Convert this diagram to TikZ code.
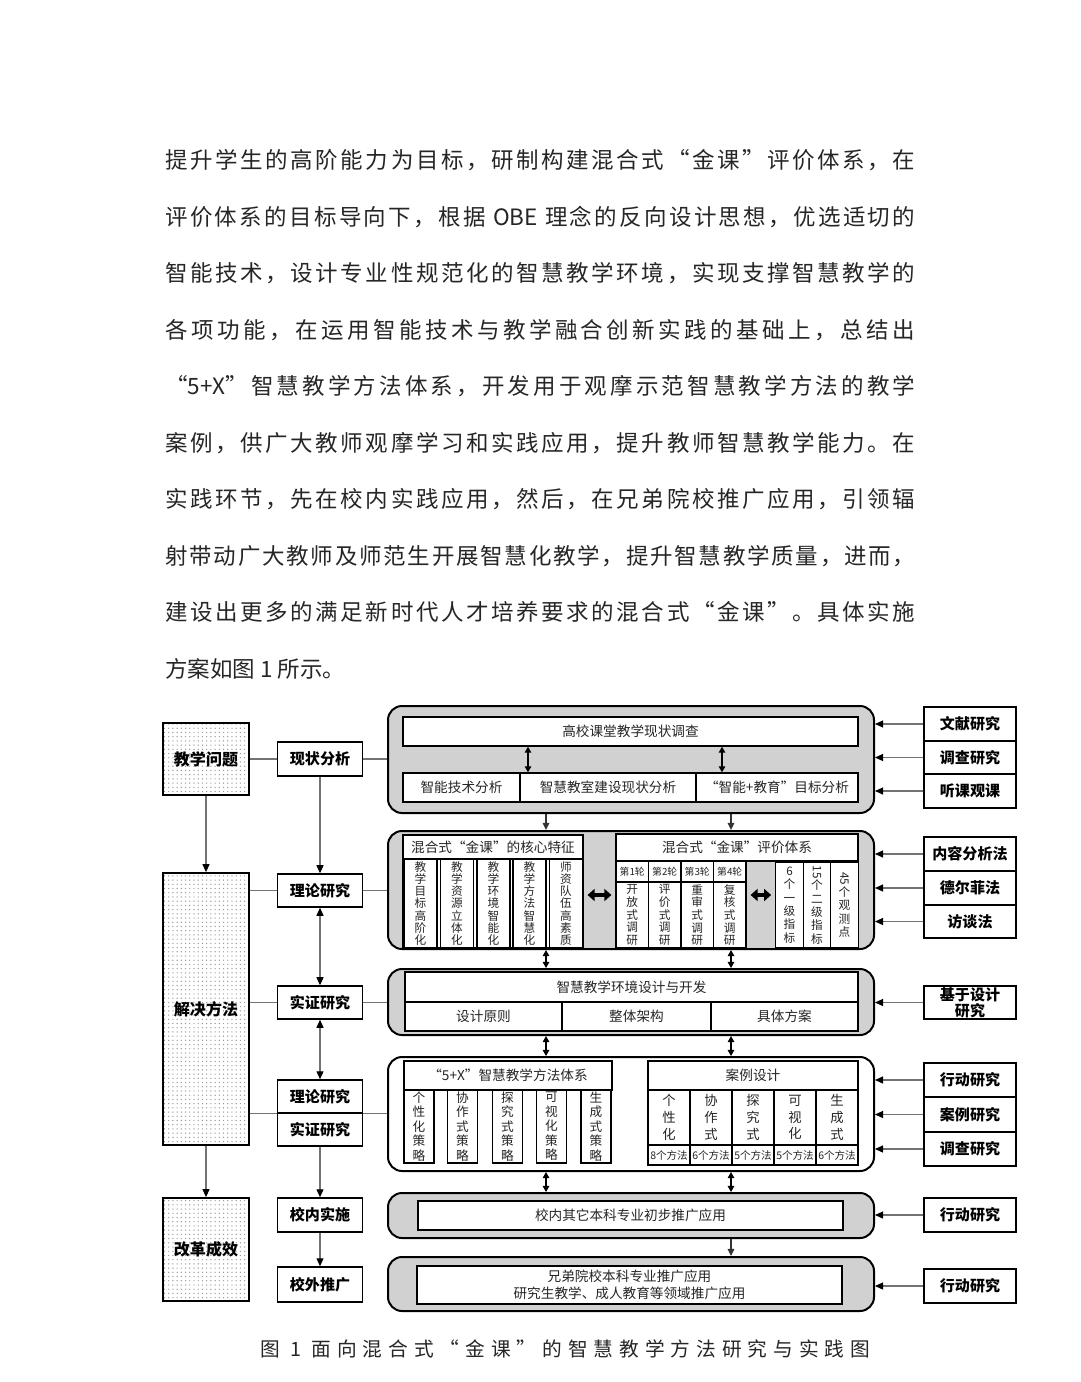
\documentclass[tikz,border=0pt]{standalone}
\usepackage{fontspec}
\setmainfont{Noto Sans CJK SC}
\usepackage{graphicx}
\usepackage{tikz}
\usetikzlibrary{arrows.meta, patterns}

\newdimen\pxu
\pxu=0.25mm
% ligne justifiee caractere par caractere
\newcommand\spreadend{}
\newcommand\spreadline[2]{\makebox[#1][s]{\spreadaux#2\spreadend}}
\def\spreadaux#1{#1\spreadnext}
\def\spreadnext#1{\ifx\spreadend#1\else\hfil#1\expandafter\spreadnext\fi}
\newcommand\obe{\mbox{ OBE }}
\newcommand\fivex{\mbox{“5+X”}}
\newcommand\figno{\mbox{ 1 }}

\begin{document}
\begin{tikzpicture}[x=0.25mm, y=-0.25mm,
    bodyline/.style={inner sep=0pt, anchor=west, text=black!85, font=\fontsize{16}{20}\selectfont},
    problem/.style={draw, line width=1.8\pxu, preaction={fill=white}, pattern=dots, pattern color=black!40, minimum width=86\pxu, font=\fontsize{11.4}{13}\selectfont\bfseries},
    stage/.style={draw, line width=1.5\pxu, fill=white, minimum width=85\pxu, minimum height=34\pxu, font=\fontsize{10.7}{12}\selectfont\bfseries},
    method/.style={draw, line width=1.5\pxu, fill=white, minimum width=92\pxu, minimum height=34\pxu, font=\fontsize{10.7}{12}\selectfont\bfseries},
    panel/.style={draw, line width=2\pxu, rounded corners=14\pxu, fill=black!18, minimum width=486\pxu},
    cell/.style={draw, line width=1.3\pxu, fill=white, inner sep=0pt, text=black!85, font=\fontsize{9.7}{11}\selectfont},
    vcell/.style={cell, align=center, font=\fontsize{8.3}{8.6}\selectfont},
    roundlbl/.style={cell, minimum width=32.5\pxu, minimum height=21\pxu, font=\fontsize{7}{8}\selectfont},
    link/.style={draw=black!55, line width=1.1\pxu},
    into/.style={link, -{Triangle[length=5.7pt, width=5pt, color=black]}},
    twoway/.style={link, {Triangle[length=5.7pt, width=5pt, color=black]}-{Triangle[length=5.7pt, width=5pt, color=black]}},
    drop/.style={draw=black!80, line width=1.2\pxu, -{Triangle[length=5pt, width=4.6pt]}},
    dbl/.style={draw=black, line width=1.3\pxu, {Triangle[length=4.3pt, width=4.6pt]}-{Triangle[length=4.3pt, width=4.6pt]}},
    fat/.style={draw=black, line width=4\pxu, {Triangle[length=5pt, width=8.5pt]}-{Triangle[length=5pt, width=8.5pt]}, shorten >=2.8pt, shorten <=2.8pt}
]

    \fill[white] (0,0) rectangle (1080,1382);
    \useasboundingbox (0,0) rectangle (1080,1382);

    % ── texte courant ──
    \node[bodyline] (l1) at (165,160) {\spreadline{750\pxu}{提升学生的高阶能力为目标，研制构建混合式“金课”评价体系，在}};
    \node[bodyline] (l2) at (165,216.6) {\spreadline{750\pxu}{评价体系的目标导向下，根据\obe 理念的反向设计思想，优选适切的}};
    \node[bodyline] (l3) at (165,273.1) {\spreadline{750\pxu}{智能技术，设计专业性规范化的智慧教学环境，实现支撑智慧教学的}};
    \node[bodyline] (l4) at (165,329.7) {\spreadline{750\pxu}{各项功能，在运用智能技术与教学融合创新实践的基础上，总结出}};
    \node[bodyline] (l5) at (165,386.2) {\spreadline{750\pxu}{\fivex 智慧教学方法体系，开发用于观摩示范智慧教学方法的教学}};
    \node[bodyline] (l6) at (165,442.8) {\spreadline{750\pxu}{案例，供广大教师观摩学习和实践应用，提升教师智慧教学能力。在}};
    \node[bodyline] (l7) at (165,499.3) {\spreadline{750\pxu}{实践环节，先在校内实践应用，然后，在兄弟院校推广应用，引领辐}};
    \node[bodyline] (l8) at (165,555.9) {\spreadline{750\pxu}{射带动广大教师及师范生开展智慧化教学，提升智慧教学质量，进而，}};
    \node[bodyline] (l9) at (165,612.4) {\spreadline{750\pxu}{建设出更多的满足新时代人才培养要求的混合式“金课”。具体实施}};
    \node[bodyline] (l10) at (165,669) {方案如图 1 所示。};

    % ── colonne gauche ──
    \node[problem, minimum height=72\pxu] (prob) at (206,759) {教学问题};
    \node[problem, minimum height=272\pxu] (sol) at (206,1009) {解决方法};
    \node[problem, minimum height=103\pxu] (eff) at (206,1249.5) {改革成效};

    % ── etapes ──
    \node[stage] (s1) at (320,759) {现状分析};
    \node[stage, minimum height=33\pxu] (s2) at (320,890.5) {理论研究};
    \node[stage, minimum height=33\pxu] (s3) at (320,1002.5) {实证研究};
    \node[stage, minimum height=33\pxu] (s4a) at (320,1096.5) {理论研究};
    \node[stage, minimum height=33\pxu] (s4b) at (320,1129.5) {实证研究};
    \node[stage] (s5) at (320,1215) {校内实施};
    \node[stage, minimum height=35\pxu] (s6) at (320,1284.5) {校外推广};

    % ── cadres arrondis ──
    \node[panel, minimum height=107\pxu] (p1) at (631,759.5) {};
    \node[panel, minimum height=118\pxu] (p2) at (631,890) {};
    \node[panel, minimum height=66\pxu] (p3) at (631,1002) {};
    \node[panel, minimum height=114\pxu, fill=white] (p4) at (631,1114) {};
    \node[panel, minimum height=45\pxu] (p5) at (631,1215.5) {};
    \node[panel, minimum height=54\pxu] (p6) at (631,1284) {};

    % ── cadre 1 : analyse ──
    \node[cell, minimum width=455\pxu, minimum height=29\pxu] (survey) at (630.5,731.5) {高校课堂教学现状调查};
    \node[cell, minimum width=117\pxu, minimum height=29\pxu] (a1) at (461.5,787.5) {智能技术分析};
    \node[cell, minimum width=176\pxu, minimum height=29\pxu] (a2) at (608,787.5) {智慧教室建设现状分析};
    \node[cell, minimum width=162\pxu, minimum height=29\pxu] (a3) at (777,787.5) {“智能+教育”目标分析};

    % ── cadre 2 : theorie ──
    \node[cell, minimum width=180\pxu, minimum height=113\pxu] (coreb) at (493,891.5) {};
    \node[cell, minimum width=180\pxu, minimum height=24\pxu] (coreh) at (493,847) {混合式“金课”的核心特征};
    \node[vcell, minimum width=33\pxu, minimum height=89\pxu] (k1) at (420.5,903.5) {教\\学\\目\\标\\高\\阶\\化};
    \node[vcell, minimum width=33\pxu, minimum height=89\pxu] (k2) at (457,903.5) {教\\学\\资\\源\\立\\体\\化};
    \node[vcell, minimum width=33\pxu, minimum height=89\pxu] (k3) at (493.5,903.5) {教\\学\\环\\境\\智\\能\\化};
    \node[vcell, minimum width=33\pxu, minimum height=89\pxu] (k4) at (529.5,903.5) {教\\学\\方\\法\\智\\慧\\化};
    \node[vcell, minimum width=33\pxu, minimum height=89\pxu] (k5) at (566,903.5) {师\\资\\队\\伍\\高\\素\\质};

    \node[cell, minimum width=242\pxu, minimum height=27\pxu] (evalh) at (737,847.5) {混合式“金课”评价体系};
    \node[roundlbl] (r1) at (632.25,871.5) {第1轮};
    \node[roundlbl] (r2) at (664.75,871.5) {第2轮};
    \node[roundlbl] (r3) at (697.25,871.5) {第3轮};
    \node[roundlbl] (r4) at (729.75,871.5) {第4轮};
    \node[vcell, minimum width=32.5\pxu, minimum height=66\pxu, font=\fontsize{8.3}{9}\selectfont] (t1) at (632.25,915) {开\\放\\式\\调\\研};
    \node[vcell, minimum width=32.5\pxu, minimum height=66\pxu, font=\fontsize{8.3}{9}\selectfont] (t2) at (664.75,915) {评\\价\\式\\调\\研};
    \node[vcell, minimum width=32.5\pxu, minimum height=66\pxu, font=\fontsize{8.3}{9}\selectfont] (t3) at (697.25,915) {重\\审\\式\\调\\研};
    \node[vcell, minimum width=32.5\pxu, minimum height=66\pxu, font=\fontsize{8.3}{9}\selectfont] (t4) at (729.75,915) {复\\核\\式\\调\\研};
    \node[vcell, minimum width=27.5\pxu, minimum height=86\pxu, font=\fontsize{8.3}{9.5}\selectfont] (i1) at (789.5,905) {6\\个\\一\\级\\指\\标};
    \node[vcell, minimum width=27.5\pxu, minimum height=86\pxu, font=\fontsize{8.3}{9.5}\selectfont] (i2) at (817,905) {\rotatebox{-90}{15}\\个\\二\\级\\指\\标};
    \node[vcell, minimum width=27.5\pxu, minimum height=86\pxu, font=\fontsize{8.3}{9.5}\selectfont] (i3) at (844.5,905) {\rotatebox{-90}{45}\\个\\观\\测\\点};

    \coordinate (fatrow) at (0,895);
    \draw[fat] (coreb.east |- fatrow) -- (t1.west |- fatrow);
    \draw[fat] (t4.east |- fatrow) -- (i1.west |- fatrow);

    % ── cadre 3 : environnement ──
    \node[cell, minimum width=453\pxu, minimum height=30\pxu] (envh) at (631.5,987) {智慧教学环境设计与开发};
    \node[cell, minimum width=157\pxu, minimum height=29\pxu] (e1) at (483.5,1016.5) {设计原则};
    \node[cell, minimum width=149\pxu, minimum height=29\pxu] (e2) at (636.5,1016.5) {整体架构};
    \node[cell, minimum width=147\pxu, minimum height=29\pxu] (e3) at (784.5,1016.5) {具体方案};

    % ── cadre 4 : methodes et cas ──
    \node[cell, minimum width=208\pxu, minimum height=29\pxu] (meth) at (508,1075.5) {“5+X”智慧教学方法体系};
    \node[vcell, minimum width=30\pxu, minimum height=73\pxu, font=\fontsize{9}{10.3}\selectfont] (g1) at (419,1126.5) {个\\性\\化\\策\\略};
    \node[vcell, minimum width=30\pxu, minimum height=73\pxu, font=\fontsize{9}{10.3}\selectfont] (g2) at (462.5,1126.5) {协\\作\\式\\策\\略};
    \node[vcell, minimum width=30\pxu, minimum height=73\pxu, font=\fontsize{9}{10.3}\selectfont] (g3) at (507.5,1126.5) {探\\究\\式\\策\\略};
    \node[vcell, minimum width=30\pxu, minimum height=73\pxu, font=\fontsize{9}{10.3}\selectfont] (g4) at (551.5,1126.5) {可\\视\\化\\策\\略};
    \node[vcell, minimum width=30\pxu, minimum height=73\pxu, font=\fontsize{9}{10.3}\selectfont] (g5) at (596,1126.5) {生\\成\\式\\策\\略};

    \node[cell, minimum width=210\pxu, minimum height=29\pxu] (caseh) at (753,1075.5) {案例设计};
    \node[vcell, minimum width=42\pxu, minimum height=55\pxu, font=\fontsize{9.5}{12}\selectfont] (c1) at (669,1117.5) {个\\性\\化};
    \node[vcell, minimum width=42\pxu, minimum height=55\pxu, font=\fontsize{9.5}{12}\selectfont] (c2) at (711,1117.5) {协\\作\\式};
    \node[vcell, minimum width=42\pxu, minimum height=55\pxu, font=\fontsize{9.5}{12}\selectfont] (c3) at (753,1117.5) {探\\究\\式};
    \node[vcell, minimum width=42\pxu, minimum height=55\pxu, font=\fontsize{9.5}{12}\selectfont] (c4) at (795,1117.5) {可\\视\\化};
    \node[vcell, minimum width=42\pxu, minimum height=55\pxu, font=\fontsize{9.5}{12}\selectfont] (c5) at (837,1117.5) {生\\成\\式};
    \node[cell, minimum width=42\pxu, minimum height=20\pxu, font=\fontsize{7.5}{8}\selectfont] (n1) at (669,1155) {8个方法};
    \node[cell, minimum width=42\pxu, minimum height=20\pxu, font=\fontsize{7.5}{8}\selectfont] (n2) at (711,1155) {6个方法};
    \node[cell, minimum width=42\pxu, minimum height=20\pxu, font=\fontsize{7.5}{8}\selectfont] (n3) at (753,1155) {5个方法};
    \node[cell, minimum width=42\pxu, minimum height=20\pxu, font=\fontsize{7.5}{8}\selectfont] (n4) at (795,1155) {5个方法};
    \node[cell, minimum width=42\pxu, minimum height=20\pxu, font=\fontsize{7.5}{8}\selectfont] (n5) at (837,1155) {6个方法};

    % ── cadres 5 et 6 : diffusion ──
    \node[cell, minimum width=425\pxu, minimum height=29\pxu] (inner) at (630.5,1215.5) {校内其它本科专业初步推广应用};
    \node[cell, minimum width=425\pxu, minimum height=38\pxu, align=center, font=\fontsize{9.7}{12}\selectfont] (outer) at (629.5,1285) {兄弟院校本科专业推广应用\\研究生教学、成人教育等领域推广应用};

    % ── methodes de recherche (droite) ──
    \node[method] (m1) at (970,724) {文献研究};
    \node[method, minimum height=33\pxu] (m2) at (970,757.5) {调查研究};
    \node[method] (m3) at (970,791) {听课观课};
    \node[method] (m4) at (970,854) {内容分析法};
    \node[method] (m5) at (970,888) {德尔菲法};
    \node[method, minimum height=33\pxu] (m6) at (970,921.5) {访谈法};
    \node[method, minimum height=33\pxu, align=center, inner sep=1pt, font=\fontsize{10.7}{10}\selectfont\bfseries] (m7) at (970,1002.5) {基于设计\\研究};
    \node[method] (m8) at (970,1080) {行动研究};
    \node[method, minimum height=35\pxu] (m9) at (970,1114.5) {案例研究};
    \node[method] (m10) at (970,1149) {调查研究};
    \node[method] (m11) at (970,1215) {行动研究};
    \node[method] (m12) at (970,1286) {行动研究};

    \draw[into] (m1) -- (m1 -| p1.east);
    \draw[into] (m2) -- (m2 -| p1.east);
    \draw[into] (m3) -- (m3 -| p1.east);
    \draw[into] (m4) -- (m4 -| p2.east);
    \draw[into] (m5) -- (m5 -| p2.east);
    \draw[into] (m6) -- (m6 -| p2.east);
    \draw[into] (m7) -- (m7 -| p3.east);
    \draw[into] (m8) -- (m8 -| p4.east);
    \draw[into] (m9) -- (m9 -| p4.east);
    \draw[into] (m10) -- (m10 -| p4.east);
    \draw[into] (m11) -- (m11 -| p5.east);
    \draw[into] (m12) -- (m12 -| p6.east);

    % ── liaisons a gauche ──
    \draw[link] (prob) -- (s1);
    \draw[link] (s1.east) -- (s1.east -| p1.west);
    \draw[link] (s2 -| sol.east) -- (s2.west);
    \draw[link] (s2.east) -- (s2.east -| p2.west);
    \draw[link] (s3 -| sol.east) -- (s3.west);
    \draw[link] (s3.east) -- (s3.east -| p3.west);
    \draw[link] (s4a.south west -| sol.east) -- (s4a.south west);
    \draw[link] (s4a.south east) -- (s4a.south east -| p4.west);

    \draw[into] (prob) -- (sol);
    \draw[into] (sol) -- (eff);
    \draw[into] (s1) -- (s2);
    \draw[twoway] (s2) -- (s3);
    \draw[twoway] (s3) -- (s4a);
    \draw[into] (s4b) -- (s5);
    \draw[into] (s5) -- (s6);

    % ── fleches entre cadres ──
    \coordinate (colA) at (528,0);
    \coordinate (colB) at (722,0);
    \coordinate (colL) at (546,0);
    \coordinate (colR) at (731,0);
    \draw[dbl] (survey.south -| colA) -- (a2.north -| colA);
    \draw[dbl] (survey.south -| colB) -- (a3.north -| colB);
    \draw[drop] (p1.south -| colL) -- (p2.north -| colL);
    \draw[drop] (p1.south -| colR) -- (p2.north -| colR);
    \draw[dbl] (p2.south -| colL) -- (p3.north -| colL);
    \draw[dbl] (p2.south -| colR) -- (p3.north -| colR);
    \draw[dbl] (p3.south -| colL) -- (p4.north -| colL);
    \draw[dbl] (p3.south -| colR) -- (p4.north -| colR);
    \draw[dbl] (p4.south -| colL) -- (p5.north -| colL);
    \draw[dbl] (p4.south -| colR) -- (p5.north -| colR);
    \draw[drop] (p5.south -| colR) -- (p6.north -| colR);

    % ── legende ──
    \node[bodyline, font=\fontsize{14}{16}\selectfont] (cap) at (260,1349) {\spreadline{610\pxu}{图\figno 面向混合式“金课”的智慧教学方法研究与实践图}};

\end{tikzpicture}
\end{document}
